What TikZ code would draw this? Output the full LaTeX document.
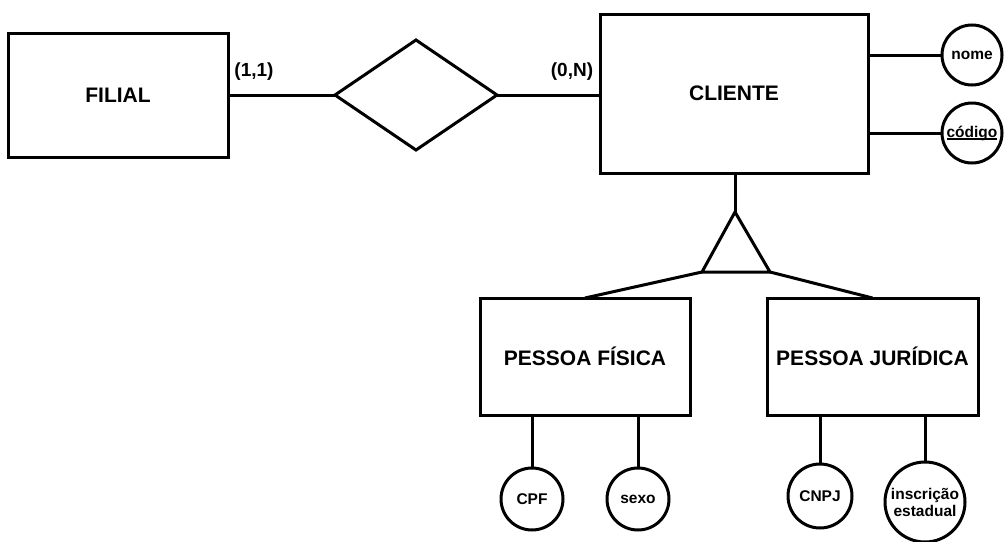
\documentclass[tikz,border=0pt]{standalone}
\usepackage{fontspec}
\setmainfont{Liberation Sans}
\usetikzlibrary{shapes.geometric}
\newcommand{\myul}[1]{\setbox0\hbox{#1}\rlap{\rule[-2.5pt]{\wd0}{1.4pt}}\box0}
\begin{document}
\begin{tikzpicture}[x=1pt,y=-1pt,
  every path/.style={line width=3pt, line join=miter},
  entity/.style={draw, rectangle, inner sep=0pt, outer sep=0pt, font=\fontsize{21}{24}\selectfont\bfseries},
  attr/.style={draw, circle, inner sep=0pt, outer sep=0pt, align=center, font=\fontsize{15.5}{17}\selectfont\bfseries},
  rel/.style={draw, diamond, inner sep=0pt, outer sep=0pt},
  card/.style={font=\fontsize{19}{22}\selectfont\bfseries}
]
\useasboundingbox (0,0) rectangle (1004,541);
\node[entity, minimum width=220pt, minimum height=124pt] (filial) at (118,95) {FILIAL};
\node[rel, minimum width=162pt, minimum height=110pt] (r) at (416,95) {};
\node[entity, minimum width=268pt, minimum height=159pt] (cliente) at (734,93.5) {CLIENTE};
\node[card] (c11) at (254,72) {(1,1)};
\node[card] (c0n) at (572,72) {(0,N)};
\draw (filial.east |- r.west) -- (r.west);
\draw (r.east) -- (r.east -| cliente.west);

\node[attr, minimum size=60pt] (nome) at (972,55) {nome};
\node[attr, minimum size=60pt] (codigo) at (972,133) {\myul{código}};
\draw (nome.west) -- (nome.west -| cliente.east);
\draw (codigo.west) -- (codigo.west -| cliente.east);

\coordinate (apex) at (735,212);
\coordinate (bl) at (702,272);
\coordinate (br) at (770,272);
\draw (apex) -- (bl) -- (br) -- cycle;
\draw (cliente.south -| apex) -- (apex);

\node[entity, minimum width=210pt, minimum height=117pt] (pf) at (585,356.5) {PESSOA FÍSICA};
\node[entity, minimum width=211pt, minimum height=117pt] (pj) at (872.5,356.5) {PESSOA JURÍDICA};
\draw (bl) -- (pf.north);
\draw (br) -- (pj.north);

\node[attr, minimum size=62pt] (cpf) at (532,499) {CPF};
\node[attr, minimum size=62pt] (sexo) at (638,499) {sexo};
\node[attr, minimum size=64pt] (cnpj) at (820,496) {CNPJ};
\node[attr, minimum size=80pt] (insc) at (925,502) {inscrição\\estadual};
\draw (cpf.north) -- (cpf.north |- pf.south);
\draw (sexo.north) -- (sexo.north |- pf.south);
\draw (cnpj.north) -- (cnpj.north |- pj.south);
\draw (insc.north) -- (insc.north |- pj.south);
\end{tikzpicture}
\end{document}
